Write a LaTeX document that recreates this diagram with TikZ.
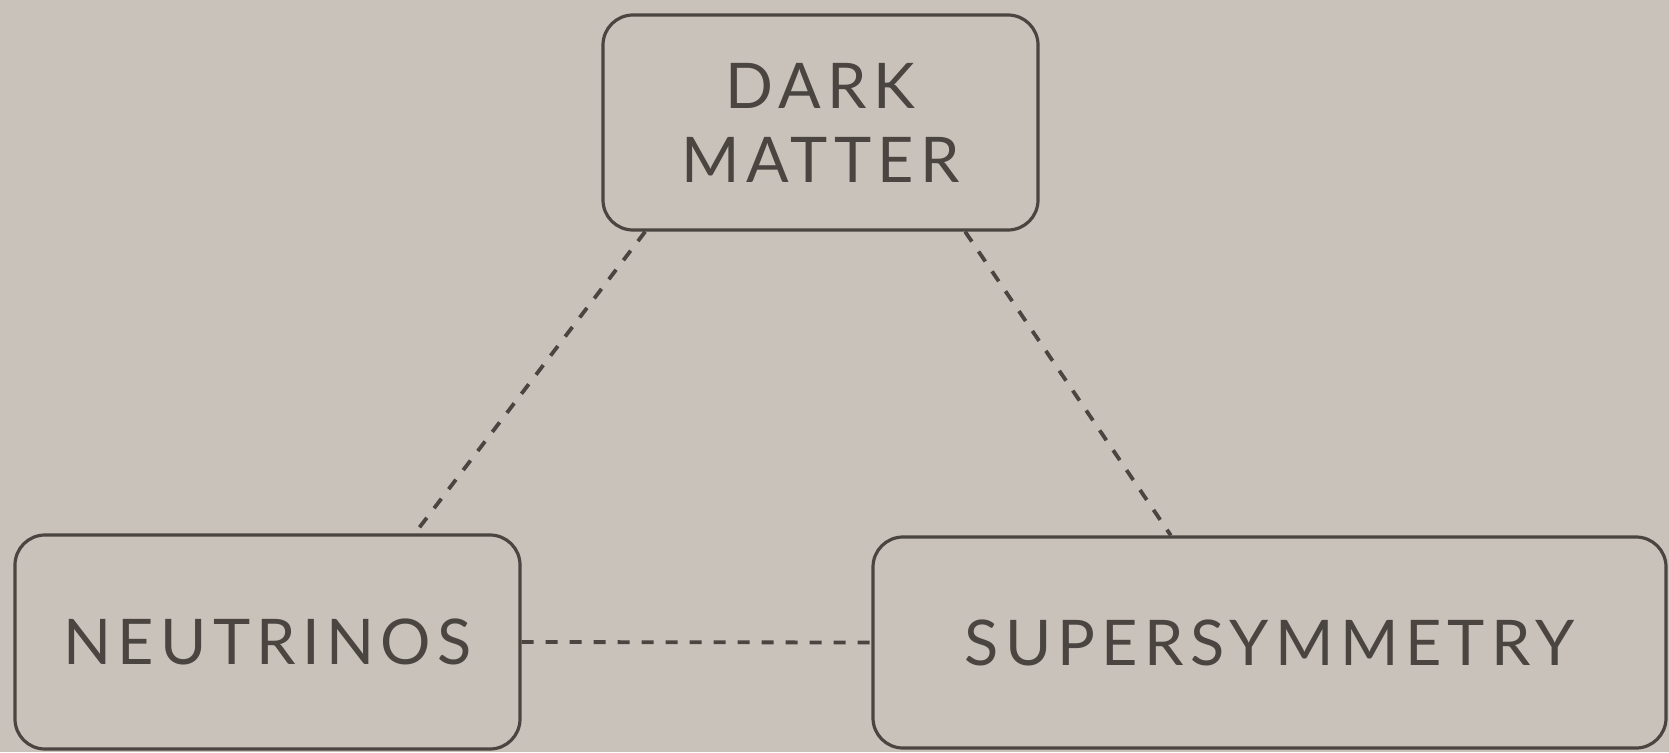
\documentclass[tikz,border=0pt]{standalone}
\usepackage{fontspec}
\setmainfont{Lato}[LetterSpace=10]
\usetikzlibrary{calc}
\definecolor{paper}{HTML}{C9C2BA}
\definecolor{ink}{HTML}{4A4541}
\tikzset{
  box/.style={draw=ink, line width=3.2pt, rounded corners=30pt, rectangle,
    inner sep=0pt, text=ink, align=center,
    font=\fontsize{63}{74}\selectfont},
  link/.style={draw=ink, line width=3.8pt, dash pattern=on 12pt off 12pt}
}
\begin{document}
\begin{tikzpicture}[x=1pt,y=-1pt]
  \fill[paper] (0,0) rectangle (1669,752);
  \useasboundingbox (0,0) rectangle (1669,752);

  \node[box, minimum width=435pt, minimum height=215pt] (dm) at (820.5,122.5) {DARK\\MATTER};
  \node[box, minimum width=505pt, minimum height=214pt] (nu) at (267.5,642) {NEUTRINOS};
  \node[box, minimum width=793pt, minimum height=211pt] (susy) at (1269.5,642.5) {SUPERSYMMETRY};

  \draw[link] ($(dm.south west)!0.10!(dm.south east)$) -- ($(nu.north west)!0.79!(nu.north east)$);
  \draw[link] ($(dm.south west)!0.83!(dm.south east)$) -- ($(susy.north west)!0.376!(susy.north east)$);
  \draw[link] (nu.east) -- (susy.west);
\end{tikzpicture}
\end{document}
